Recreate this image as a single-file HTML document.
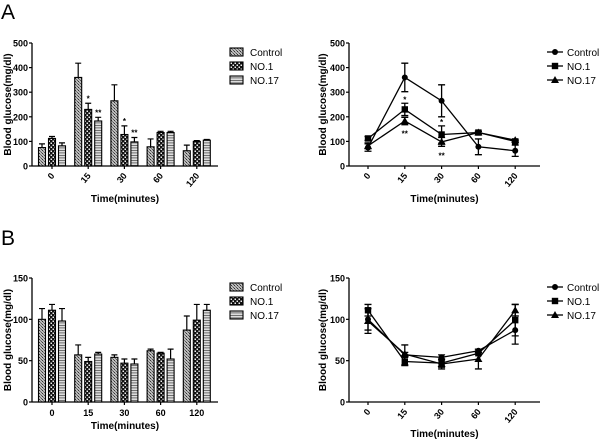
<!DOCTYPE html>
<html><head><meta charset="utf-8"><style>
html,body{margin:0;padding:0;background:#fff;}
svg{display:block;font-family:"Liberation Sans",Arial,sans-serif;}
</style></head><body>
<svg id="fig" width="600" height="445" viewBox="0 0 600 445" xmlns="http://www.w3.org/2000/svg">
<defs>
<pattern id="pCtrl" width="3" height="3" patternUnits="userSpaceOnUse"><rect width="3" height="3" fill="#bbb"/><rect width="1" height="1" fill="#333"/><rect x="2" y="2" width="1" height="1" fill="#555"/><rect x="1" y="1" width="1" height="1" fill="#777"/></pattern>
<pattern id="pNo1" width="4" height="4" patternUnits="userSpaceOnUse"><rect width="4" height="4" fill="#111"/><rect x="0.5" y="0.5" width="1.5" height="1.5" fill="#eee"/><rect x="2.5" y="2.5" width="1.5" height="1.5" fill="#eee"/></pattern>
<pattern id="pNo17" width="4" height="2.5" patternUnits="userSpaceOnUse"><rect width="4" height="2.5" fill="#ddd"/><rect y="0" width="4" height="0.8" fill="#555"/></pattern>
</defs>
<text x="1" y="19" font-size="21">A</text>
<text x="1" y="245" font-size="21">B</text>
</svg>
<script>
const categories = ["0","15","30","60","120"];
const seriesNames = ["Control","NO.1","NO.17"];
const aCtrl = [75,360,265,78,62];
const aCtrlErr = [15,58,65,32,23];
const aNo1 = [112,230,128,136,100];
const aNo1Err = [8,25,35,5,3];
const aNo17 = [82,183,98,136,105];
const aNo17Err = [12,15,18,5,3];
const aTicks = [0,100,200,300,400,500];
const bCtrl = [100,57,54,62,87];
const bCtrlErr = [13,12,3,2,17];
const bNo1 = [111,49,47,59,99];
const bNo1Err = [7,5,5,1,19];
const bNo17 = [98,58,46,52,111];
const bNo17Err = [15,2,6,12,7];
const bTicks = [0,50,100,150];
const aStars = [[null,"*","*",null,null],[null,"**","**",null,null]];

const NS="http://www.w3.org/2000/svg";
const svg=document.getElementById('fig');
function mk(tag,attrs,parent,text){const e=document.createElementNS(NS,tag);for(const k in attrs)e.setAttribute(k,attrs[k]);if(text!==undefined)e.textContent=text;(parent||svg).appendChild(e);return e;}

function panel(o){
  const g=mk('g',{});
  
  
  const y=v=>o.y0-(v/o.max)*(o.y0-o.yTop);
  const x=i=>o.xFirst+i*o.dx;
  const ya=mk('line',{x1:o.ax,y1:o.yTop,x2:o.ax,y2:o.y0,stroke:'#000','stroke-width':1.3},g);
  
  const xa=mk('line',{x1:o.ax,y1:o.y0,x2:o.axEnd,y2:o.y0,stroke:'#000','stroke-width':1.3},g);
  
  o.ticks.forEach(t=>{
    mk('line',{x1:o.ax-3,y1:y(t),x2:o.ax,y2:y(t),stroke:'#000','stroke-width':1.2},g);
    const tl=mk('text',{x:o.ax-4,y:y(t)+3.5,'font-size':9,'font-weight':'bold','text-anchor':'end'},g,String(t));
    
  });
  categories.forEach((c,i)=>{
    mk('line',{x1:x(i),y1:o.y0,x2:x(i),y2:o.y0+3,stroke:'#000','stroke-width':1.2},g);
    let tl;
    if(o.rot){tl=mk('text',{x:x(i)+3,y:o.y0+10,'font-size':9,'font-weight':'bold','text-anchor':'end',transform:`rotate(-50 ${x(i)+3} ${o.y0+10})`},g,c);}
    else tl=mk('text',{x:x(i),y:o.y0+14,'font-size':9,'font-weight':'bold','text-anchor':'middle'},g,c);
    
  });
  const yt=mk('text',{x:0,y:0,'font-size':10,'font-weight':'bold','text-anchor':'middle',transform:`translate(${o.ytx},${(o.yTop+o.y0)/2}) rotate(-90)`},g,'Blood glucose(mg/dl)');
  
  const xt=mk('text',{x:(o.ax+o.axEnd)/2,y:o.xTitleY,'font-size':10,'font-weight':'bold','text-anchor':'middle'},g,'Time(minutes)');
  

  const fills=['url(#pCtrl)','url(#pNo1)','url(#pNo17)'];
  if(o.type==='bar'){
    const bw=7,gap=3;
    o.series.forEach((s,si)=>{
      s.forEach((v,i)=>{
        const bx=x(i)+(si-1)*(bw+gap)-bw/2;
        const r=mk('rect',{x:bx,y:y(v),width:bw,height:o.y0-y(v),fill:fills[si],stroke:'#000','stroke-width':1.1},g);
        
        
        const e=o.errs[si][i],cx=bx+bw/2;
        const eb=mk('path',{d:`M${cx} ${y(v)}V${y(v+e)}M${cx-3} ${y(v+e)}H${cx+3}`,stroke:'#000','stroke-width':1.2,fill:'none'},g);
        
        if(o.stars&&o.stars[si-1]&&o.stars[si-1][i]){
          const st=mk('text',{x:cx,y:y(v+e)-2,'font-size':8,'font-weight':'bold','text-anchor':'middle'},g,o.stars[si-1][i]);
          
        }
      });
    });
  } else {
    o.series.forEach((s,si)=>{
      const pl=mk('polyline',{points:s.map((v,i)=>x(i)+','+y(v)).join(' '),fill:'none',stroke:'#000','stroke-width':1.3},g);
      
      
      s.forEach((v,i)=>{
        const e=o.errs[si][i],cx=x(i);
        const eb=mk('path',{d:`M${cx} ${y(v-e)}V${y(v+e)}M${cx-3.5} ${y(v+e)}H${cx+3.5}M${cx-3.5} ${y(v-e)}H${cx+3.5}`,stroke:'#000','stroke-width':1.3,fill:'none'},g);
        
        marker(g,si,cx,y(v));
      });
    });
    if(o.stars){
      o.stars.forEach((row,k)=>row.forEach((st,i)=>{ if(!st)return;
        const s=o.series[k+1],e=o.errs[k+1][i];
        const yy=k===0?y(s[i]+e)-1:y(s[i]-e)+12;
        const t=mk('text',{x:x(i),y:yy,'font-size':8,'font-weight':'bold','text-anchor':'middle'},g,st);
        
      }));
    }
  }
  seriesNames.forEach((n,si)=>{
    const ly=o.legY+si*14;
    const lg=mk('g',{},g);
    
    
    if(o.type==='bar') mk('rect',{x:o.legX,y:ly-4,width:13,height:8,fill:fills[si],stroke:'#000','stroke-width':1.1},lg);
    else {mk('line',{x1:o.legX,y1:ly,x2:o.legX+16,y2:ly,stroke:'#000','stroke-width':1.3},lg);marker(lg,si,o.legX+8,ly);}
    mk('text',{x:o.legX+20,y:ly+4,'font-size':10},lg,n);
  });
}
function marker(g,si,cx,cy){
  let m;
  if(si===0)m=mk('circle',{cx:cx,cy:cy,r:3,fill:'#000'},g);
  else if(si===1)m=mk('rect',{x:cx-3.2,y:cy-3.2,width:6.4,height:6.4,fill:'#000'},g);
  else m=mk('path',{d:`M${cx} ${cy-4}L${cx+4} ${cy+3}L${cx-4} ${cy+3}Z`,fill:'#000'},g);
  
}

panel({name:'panel-a-bar-chart',type:'bar',ax:32,axEnd:218,yTop:43,y0:166,max:500,ticks:aTicks,xFirst:52,dx:36.2,rot:true,xTitleY:202,ytx:11,
  series:[aCtrl,aNo1,aNo17],errs:[aCtrlErr,aNo1Err,aNo17Err],stars:aStars,legX:230,legY:52});
panel({name:'panel-a-line-chart',type:'line',ax:349,axEnd:540,yTop:43,y0:166,max:500,ticks:aTicks,xFirst:368,dx:36.8,rot:true,xTitleY:202,ytx:326,
  series:[aCtrl,aNo1,aNo17],errs:[aCtrlErr,aNo1Err,aNo17Err],stars:aStars,legX:547,legY:52});
panel({name:'panel-b-bar-chart',type:'bar',ax:32,axEnd:218,yTop:278,y0:402,max:150,ticks:bTicks,xFirst:52,dx:36.2,rot:false,xTitleY:429,ytx:11,
  series:[bCtrl,bNo1,bNo17],errs:[bCtrlErr,bNo1Err,bNo17Err],legX:230,legY:287});
panel({name:'panel-b-line-chart',type:'line',ax:349,axEnd:540,yTop:278,y0:402,max:150,ticks:bTicks,xFirst:368,dx:36.8,rot:true,xTitleY:437,ytx:326,
  series:[bCtrl,bNo1,bNo17],errs:[bCtrlErr,bNo1Err,bNo17Err],legX:547,legY:287});
</script>
</body></html>
